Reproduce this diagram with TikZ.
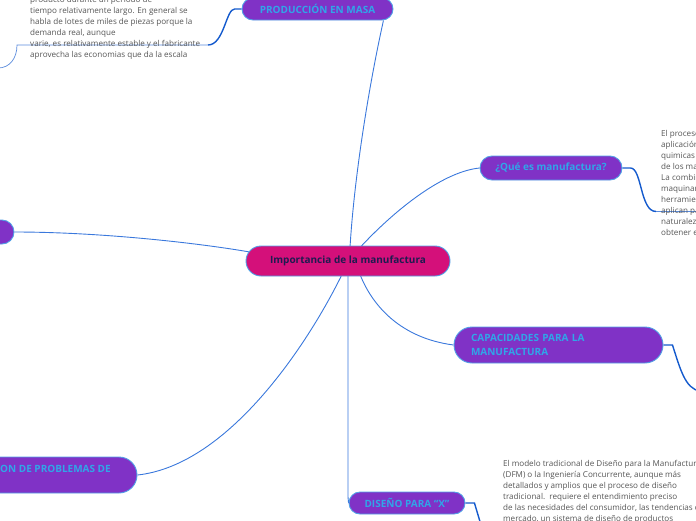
\documentclass[tikz,border=0pt]{standalone}
\usepackage{fontspec}
\setmainfont{Open Sans}
\usetikzlibrary{calc}
\pgfdeclarelayer{back}\pgfsetlayers{back,main}
\definecolor{topicfill}{RGB}{128,50,198}
\definecolor{topictext}{RGB}{48,166,232}
\definecolor{rootfill}{RGB}{212,16,122}
\definecolor{roottext}{RGB}{30,28,80}
\definecolor{rim}{RGB}{80,160,230}
\definecolor{branch}{RGB}{58,120,220}
\definecolor{twig}{RGB}{20,90,205}
\definecolor{leaf}{RGB}{85,85,85}
\tikzset{
 topic/.style={draw=rim,line width=.9pt,fill=topicfill,text=topictext,font=\bfseries\fontsize{10}{14}\selectfont,rounded corners=11pt,minimum height=22pt,inner sep=0pt},
 root/.style={topic,fill=rootfill,text=roottext,rounded corners=15pt,minimum height=30pt},
 leaftxt/.style={text=leaf,font=\fontsize{8.1}{11}\selectfont,align=left,anchor=north west,inner sep=0pt},
 branchln/.style={draw=branch,line width=.9pt},
 twigln/.style={draw=twig,line width=1.4pt},
 rule/.style={draw=twig!70!white,line width=.7pt}
}
\begin{document}
\begin{tikzpicture}[x=1pt,y=-1pt]
\useasboundingbox(0,0)rectangle(696,520);\clip(0,0)rectangle(696,520);
% topics
\node[root,minimum width=204pt](imp)at(348,261){Importancia de la manufactura};
\node[topic,minimum width=151pt](prod)at(317.5,9){PRODUCCIÓN EN MASA};
\node[topic,minimum width=142pt,minimum height=24pt,rounded corners=12pt](que)at(551,168){¿Qué es manufactura?};
\node[topic,minimum width=60pt,minimum height=24pt,rounded corners=12pt](lft)at(-16,232){};
\node[topic,minimum width=209pt,minimum height=36pt,rounded corners=18pt,text width=175pt,align=left](cap)at(558.5,345){CAPACIDADES PARA LA\\MANUFACTURA};
\node[topic,minimum width=200pt,minimum height=36pt,rounded corners=18pt](sol)at(37,475){};
\node[text=topictext,font=\bfseries\fontsize{10}{14}\selectfont,anchor=west,inner sep=0pt](solt)at(0,469){ON DE PROBLEMAS DE};
\node[topic,minimum width=116pt](dis)at(407,503){DISEÑO PARA “X”};
% notes
\node[leaftxt](prodtxt)at(30,-4){producto durante un periodo de\\tiempo relativamente largo. En general se\\habla de lotes de miles de piezas porque la\\demanda real, aunque\\varie, es relativamente estable y el fabricante\\aprovecha las economias que da la escala};
\node[leaftxt](quetxt)at(661,130){El proceso\\aplicación\\quimicas\\de los ma\\La combin\\maquinar\\herramien\\aplican pa\\naturalez\\obtener e};
\node[leaftxt](distxt)at(503,460){El modelo tradicional de Diseño para la Manufactura\\(DFM) o la Ingeniería Concurrente, aunque más\\detallados y amplios que el proceso de diseño\\tradicional.\ \ requiere el entendimiento preciso\\de las necesidades del consumidor, las tendencias del\\mercado, un sistema de diseño de productos};
\coordinate(prodend)at(-2,68);\coordinate(queend)at(700,211.5);\coordinate(capend)at(700,391);\coordinate(disend)at(481,525);
\begin{pgfonlayer}{back}
\draw[branchln]($(imp.north)+(2,2)$)..controls(354,180)and(368,90)..($(prod.south east)+(-10,0)$);
\draw[branchln]($(imp.north)+(12,2)$)..controls(390,215)and(440,172)..(que.west);
\draw[branchln]($(imp.west)+(10,-8)$)..controls(200,243)and(100,232)..(lft.east);
\draw[branchln]($(imp.south)+(12,-2)$)..controls(372,305)and(400,338)..(cap.west);
\draw[branchln]($(imp.south)+(-6,-2)$)..controls(310,340)and(230,465)..(sol.east);
\draw[branchln]($(imp.south)+(0,-2)$)--($(imp.south|-dis.west)+(0,-6)$)--(dis.west);
\draw[twigln](prod.west)--++(-7,0)..controls(226,9)and(224,45)..(208,45);\draw[rule](208,45)--(17,45)..controls(17,58)and(10,68)..(prodend);
\draw[twigln](que.east)--++(8,0)..controls(642,168)and(640,211.5)..(656,211.5);\draw[rule](656,211.5)--(queend);
\draw[twigln](cap.east)--++(9,0)..controls(680,368)and(685,389)..(capend);
\draw[twigln](dis.east)--++(9,0)--(disend);
\end{pgfonlayer}
\end{tikzpicture}
\end{document}
